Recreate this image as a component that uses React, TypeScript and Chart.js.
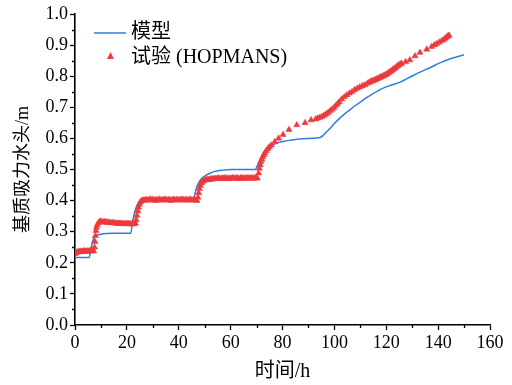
import React, { useEffect, useRef } from 'react';
import { Chart, registerables } from 'chart.js';

Chart.register(...registerables);

// ---- Data ----
const modelTime = [
  0, 5.5, 6, 6.5, 7, 7.5, 8, 9, 10, 12, 15, 18, 21.5,
  22, 22.5, 23, 23.5, 24, 25, 26, 28, 32, 36, 40, 45.7,
  46.2, 46.8, 47.5, 48.5, 50, 52, 54, 57, 60, 65, 69.5,
  70.3, 71.3, 72.5, 73.9, 75, 76.4, 78, 80.3, 83, 85.5, 88, 90.6, 93, 94.5,
  95.5, 96.5, 98.3, 100, 102.2, 104, 106, 108, 110, 113, 117.6, 121, 125.3,
  128, 133, 137, 140.7, 145, 150,
];
const modelHead = [
  0.217, 0.217, 0.24, 0.26, 0.275, 0.283, 0.287, 0.29, 0.292, 0.294, 0.295, 0.295, 0.295,
  0.32, 0.345, 0.363, 0.376, 0.385, 0.393, 0.397, 0.399, 0.4, 0.4, 0.4, 0.4,
  0.42, 0.44, 0.455, 0.468, 0.479, 0.488, 0.494, 0.498, 0.5, 0.5, 0.5,
  0.512, 0.531, 0.548, 0.563, 0.572, 0.579, 0.585, 0.59, 0.594, 0.597, 0.599, 0.6, 0.601, 0.603,
  0.608, 0.617, 0.632, 0.648, 0.666, 0.679, 0.692, 0.705, 0.717, 0.734, 0.757, 0.769, 0.781,
  0.792, 0.813, 0.828, 0.843, 0.857, 0.869,
];

const expTime = [
  0, 0.4, 0.8, 1.2, 1.6, 2.0, 2.4, 2.8, 3.2, 3.6, 4.0, 4.4, 4.8, 5.2, 5.6, 6.0, 6.4, 6.8, 7.2,
  7.5, 7.7, 7.9, 8.1, 8.3, 8.6, 9.0, 9.4,
  9.8, 10.3, 10.8, 11.3, 11.8, 12.3, 12.8, 13.3, 13.8, 14.3,
  14.8, 15.3, 15.8, 16.3, 16.8, 17.3, 17.8, 18.3, 18.8, 19.3,
  19.8, 20.3, 20.8, 21.3, 21.8, 22.3, 22.8, 23.3,
  23.6, 23.9, 24.2, 24.5, 24.8, 25.2, 25.6,
  26, 26.5, 27, 27.5, 28, 28.5, 29, 29.5, 30, 30.5,
  31, 31.5, 32, 32.5, 33, 33.5, 34, 34.5, 35, 35.5,
  36, 36.5, 37, 37.5, 38, 38.5, 39, 39.5, 40, 40.5,
  41, 41.5, 42, 42.5, 43, 43.5, 44, 44.5, 45, 45.5,
  46, 46.5, 47,
  47.4, 47.7, 48.0, 48.3, 48.7, 49.2, 49.8,
  50.3, 50.8, 51.3, 51.8, 52.3, 52.8, 53.3, 53.8, 54.3, 54.8,
  55.3, 55.8, 56.3, 56.8, 57.3, 57.8, 58.3, 58.8, 59.3, 59.8,
  60.3, 60.8, 61.3, 61.8, 62.3, 62.8, 63.3, 63.8, 64.3, 64.8,
  65.3, 65.8, 66.3, 66.8, 67.3, 67.8, 68.3, 68.8, 69.3, 69.8,
  70.3,
  70.8, 71.1, 71.4, 71.7, 72.0, 72.4, 72.8, 73.2, 73.7, 74.3,
  74.9, 75.7, 77.0, 78.5, 80.2, 82.5, 85.5, 88.7, 91.0, 92.8,
  93.6, 94.4, 95.2, 96.0, 96.8, 97.6, 98.3, 99.0, 99.8, 100.5, 101.2, 101.9,
  102.8, 103.8, 104.8, 105.8, 106.8, 107.8, 108.8, 109.8, 110.8, 111.8, 112.8,
  113.4, 113.9, 114.4, 114.9, 115.4, 115.9, 116.4, 116.9, 117.4, 117.9,
  118.4, 118.9, 119.4, 119.9, 120.4, 120.9, 121.4, 121.9, 122.4, 122.9,
  123.4, 123.9, 124.4, 124.9, 125.4, 125.9,
  127.5, 129.1, 131.1, 133.0, 135.6, 137.5, 138.5, 139.4, 140.4, 141.4,
  142.2, 142.8, 143.3, 143.8, 144.2,
];
const expHead = [
  0.229, 0.232, 0.234, 0.235, 0.236, 0.235, 0.237, 0.236, 0.237, 0.238, 0.237, 0.236, 0.238, 0.237, 0.238, 0.237, 0.238, 0.239, 0.238,
  0.25, 0.268, 0.287, 0.303, 0.314, 0.322, 0.328, 0.331,
  0.333, 0.332, 0.331, 0.332, 0.330, 0.331, 0.329, 0.330, 0.328, 0.329,
  0.328, 0.327, 0.328, 0.326, 0.327, 0.326, 0.327, 0.325, 0.326, 0.325,
  0.326, 0.325, 0.326, 0.325, 0.324, 0.326, 0.325, 0.327,
  0.338, 0.352, 0.366, 0.378, 0.388, 0.395, 0.399,
  0.400, 0.402, 0.401, 0.403, 0.401, 0.402, 0.404, 0.401, 0.403, 0.402,
  0.400, 0.403, 0.401, 0.404, 0.402, 0.401, 0.403, 0.402, 0.404, 0.401,
  0.402, 0.403, 0.400, 0.402, 0.404, 0.401, 0.403, 0.402, 0.401, 0.403,
  0.402, 0.404, 0.401, 0.402, 0.403, 0.401, 0.402, 0.404, 0.401, 0.402,
  0.403, 0.401, 0.400,
  0.41, 0.425, 0.438, 0.448, 0.456, 0.461, 0.465,
  0.466, 0.467, 0.468, 0.467, 0.469, 0.470, 0.469, 0.471, 0.470, 0.471,
  0.472, 0.471, 0.470, 0.472, 0.471, 0.473, 0.471, 0.472, 0.470, 0.472,
  0.471, 0.473, 0.472, 0.471, 0.473, 0.472, 0.470, 0.472, 0.473, 0.471,
  0.472, 0.471, 0.473, 0.472, 0.471, 0.473, 0.472, 0.471, 0.473, 0.472,
  0.472,
  0.488, 0.503, 0.514, 0.524, 0.532, 0.540, 0.547, 0.553, 0.560, 0.566,
  0.572, 0.578, 0.589, 0.600, 0.612, 0.628, 0.643, 0.650, 0.659, 0.662,
  0.665, 0.667, 0.670, 0.674, 0.678, 0.683, 0.688, 0.693, 0.698, 0.705, 0.711, 0.717,
  0.726, 0.733, 0.739, 0.745, 0.750, 0.756, 0.761, 0.765, 0.769, 0.772, 0.777,
  0.780, 0.782, 0.784, 0.785, 0.787, 0.789, 0.791, 0.793, 0.795, 0.797,
  0.799, 0.801, 0.803, 0.805, 0.808, 0.811, 0.814, 0.817, 0.820, 0.823,
  0.826, 0.830, 0.833, 0.836, 0.839, 0.841,
  0.846, 0.852, 0.865, 0.876, 0.886, 0.895, 0.900, 0.904, 0.909, 0.914,
  0.918, 0.922, 0.926, 0.929, 0.931,
];

const seriesNames = ['模型', '试验 (HOPMANS)'];
const xTitle = '时间/h';
const yTitle = '基质吸力水头/m';
const xMin = 0, xMax = 160, xStep = 20, xMinorStep = 10;
const yMin = 0, yMax = 1.0, yStep = 0.1, yMinorStep = 0.05;

const BLUE = '#2f7de1';
const RED = '#ec3a3d';
const FONT = "'Liberation Serif', 'Times New Roman', 'Noto Sans CJK SC', serif";

const minorTicksPlugin = {
  id: 'minorTicks',
  afterDraw(chart: any) {
    const { ctx, chartArea, scales } = chart;
    const xs = scales.x, ys = scales.y;
    ctx.save();
    ctx.strokeStyle = '#000';
    ctx.lineWidth = 1.3;
    ctx.beginPath();
    for (let v = xMin + xMinorStep; v < xMax; v += xStep) {
      const px = Math.round(xs.getPixelForValue(v)) + 0.5;
      ctx.moveTo(px, chartArea.bottom);
      ctx.lineTo(px, chartArea.bottom + 3);
    }
    for (let i = 0; i < Math.round((yMax - yMin) / yStep); i++) {
      const v = yMin + i * yStep + yMinorStep;
      const py = Math.round(ys.getPixelForValue(v)) + 0.5;
      ctx.moveTo(chartArea.left, py);
      ctx.lineTo(chartArea.left - 3, py);
    }
    ctx.stroke();
    ctx.restore();
  },
};

const legendPlugin = {
  id: 'customLegend',
  afterDraw(chart: any) {
    const { ctx, chartArea } = chart;
    const x0 = chartArea.left + 19;
    const y0 = chartArea.top + 19;
    ctx.save();
    // line sample
    ctx.strokeStyle = BLUE;
    ctx.lineWidth = 1.5;
    ctx.beginPath();
    ctx.moveTo(x0, y0);
    ctx.lineTo(x0 + 32, y0);
    ctx.stroke();
    // triangle sample
    const tx = x0 + 16.5, ty = y0 + 23;
    const r = 3.5;
    ctx.fillStyle = RED;
    ctx.beginPath();
    ctx.moveTo(tx, ty - r * 1.15);
    ctx.lineTo(tx + r, ty + r * 0.85);
    ctx.lineTo(tx - r, ty + r * 0.85);
    ctx.closePath();
    ctx.fill();
    ctx.fillStyle = '#000';
    ctx.font = `20px ${FONT}`;
    ctx.textBaseline = 'middle';
    ctx.textAlign = 'left';
    ctx.fillText(seriesNames[0], x0 + 37, y0);
    ctx.fillText(seriesNames[1], x0 + 37, y0 + 25);
    ctx.restore();
  },
};

export default function App() {
  const canvasRef = useRef<HTMLCanvasElement | null>(null);

  useEffect(() => {
    const canvas = canvasRef.current;
    if (!canvas) return;
    const modelData = modelTime.map((t, i) => ({ x: t, y: modelHead[i] }));
    const expData = expTime.map((t, i) => ({ x: t, y: expHead[i] }));

    const chart = new Chart(canvas, {
      type: 'scatter',
      data: {
        datasets: [
          {
            label: seriesNames[0],
            data: modelData,
            showLine: true,
            borderColor: BLUE,
            borderWidth: 1.5,
            pointRadius: 0,
            cubicInterpolationMode: 'monotone',
            order: 2,
          } as any,
          {
            label: seriesNames[1],
            data: expData,
            showLine: false,
            pointStyle: 'triangle',
            pointRadius: 3.6,
            backgroundColor: RED,
            borderColor: RED,
            borderWidth: 0.5,
            order: 1,
          } as any,
        ],
      },
      options: {
        animation: false,
        responsive: false,
        devicePixelRatio: 1,
        layout: { padding: { left: 0, right: 22, top: 14, bottom: 0 } },
        plugins: {
          legend: { display: false },
          tooltip: { enabled: false },
        },
        scales: {
          x: {
            type: 'linear',
            min: xMin,
            max: xMax,
            afterFit: (s: any) => { s.height = 60; },
            ticks: {
              stepSize: xStep,
              color: '#000',
              padding: 2,
              maxRotation: 0,
              font: { family: FONT, size: 18 },
              callback: (v: any) => String(v),
            },
            grid: {
              drawOnChartArea: false,
              drawTicks: true,
              tickLength: 5,
              tickWidth: 1.3,
              tickColor: '#000',
            },
            border: { display: true, color: '#000', width: 1.6 },
            title: {
              display: true,
              text: xTitle,
              color: '#000',
              font: { family: FONT, size: 20 },
              padding: { top: 1, bottom: 1 },
            },
          },
          y: {
            type: 'linear',
            min: yMin,
            max: yMax,
            afterFit: (s: any) => { s.width = 75; },
            ticks: {
              stepSize: yStep,
              color: '#000',
              padding: 2,
              font: { family: FONT, size: 18 },
              callback: (v: any) => Number(v).toFixed(1),
            },
            grid: {
              drawOnChartArea: false,
              drawTicks: true,
              tickLength: 5,
              tickWidth: 1.3,
              tickColor: '#000',
            },
            border: { display: true, color: '#000', width: 1.6 },
            title: {
              display: true,
              text: yTitle,
              color: '#000',
              font: { family: FONT, size: 18 },
              padding: { top: 12, bottom: 12 },
            },
          },
        },
      },
      plugins: [minorTicksPlugin, legendPlugin],
    });
    return () => chart.destroy();
  }, []);

  return (
    <div style={{ position: 'absolute', left: 0, top: 0, width: 512, height: 385, background: '#fff' }}>
      <canvas ref={canvasRef} width={512} height={385} style={{ width: 512, height: 385 }} />
    </div>
  );
}
